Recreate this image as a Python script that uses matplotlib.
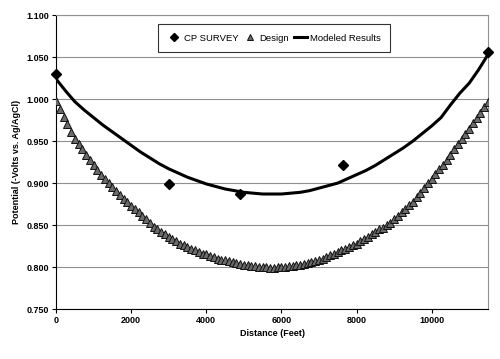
import numpy as np
import matplotlib
matplotlib.use("Agg")
from matplotlib import pyplot as plt

plt.rcParams['font.family'] = ['Liberation Sans', 'DejaVu Sans']

# CP survey readings
survey_x = [0, 3000, 4900, 7650, 11500]
survey_y = [1.030, 0.899, 0.887, 0.921, 1.056]

# design potential, every 100 ft
design_x = np.arange(0, 11600, 100)
design_y = [
    0.998, 0.988, 0.979, 0.970, 0.961, 0.953, 0.947, 0.940, 0.933, 0.927,
    0.921, 0.915, 0.910, 0.905, 0.900, 0.895, 0.890, 0.886, 0.881, 0.877,
    0.873, 0.869, 0.865, 0.861, 0.857, 0.852, 0.848, 0.845, 0.842, 0.839,
    0.836, 0.833, 0.831, 0.828, 0.826, 0.824, 0.822, 0.820, 0.818, 0.816,
    0.815, 0.813, 0.812, 0.810, 0.809, 0.808, 0.807, 0.806, 0.805, 0.804,
    0.803, 0.802, 0.801, 0.801, 0.800, 0.800, 0.800, 0.799, 0.799, 0.800,
    0.800, 0.800, 0.801, 0.801, 0.802, 0.803, 0.804, 0.805, 0.806, 0.807,
    0.808, 0.810, 0.812, 0.814, 0.816, 0.818, 0.820, 0.822, 0.824, 0.826,
    0.828, 0.831, 0.833, 0.836, 0.839, 0.842, 0.845, 0.847, 0.850, 0.853,
    0.857, 0.861, 0.865, 0.869, 0.874, 0.878, 0.883, 0.888, 0.894, 0.900,
    0.905, 0.911, 0.917, 0.922, 0.928, 0.934, 0.940, 0.946, 0.952, 0.958,
    0.964, 0.971, 0.977, 0.984, 0.990, 0.997,
]

# modeled results, every 250 ft
model_x = np.arange(0, 11750, 250)
model_y = [
    1.024, 1.010, 0.997, 0.987, 0.978, 0.969, 0.961, 0.953, 0.945, 0.937,
    0.930, 0.923, 0.917, 0.912, 0.907, 0.903, 0.899, 0.896, 0.893, 0.891,
    0.889, 0.888, 0.887, 0.887, 0.887, 0.888, 0.889, 0.891, 0.894, 0.897,
    0.900, 0.905, 0.910, 0.915, 0.921, 0.928, 0.935, 0.942, 0.950, 0.959,
    0.968, 0.978, 0.993, 1.007, 1.019, 1.035, 1.053,
]

fig = plt.figure(figsize=(5, 3.59), dpi=100)
ax = fig.add_axes([0.112, 0.139, 0.864, 0.819])

ax.plot(design_x, design_y, linestyle="none", marker="^", markersize=5.5,
        markerfacecolor="#6a6a6a", markeredgecolor="#111111",
        markeredgewidth=0.7, label="Design", zorder=3)
ax.plot(model_x, model_y, color="black", linewidth=2.2,
        label="Modeled Results", zorder=4)
ax.plot(survey_x, survey_y, linestyle="none", marker="D", markersize=5,
        color="black", label="CP SURVEY", zorder=5, clip_on=False)

ax.set_xlim(0, 11500)
ax.set_ylim(0.750, 1.100)
ax.set_xticks([0, 2000, 4000, 6000, 8000, 10000])
ax.set_yticks(np.arange(0.750, 1.1001, 0.05))
ax.yaxis.set_major_formatter(matplotlib.ticker.FormatStrFormatter("%.3f"))
ax.tick_params(labelsize=6.5, length=3, width=0.8, direction="out", pad=2)
for t in ax.get_xticklabels() + ax.get_yticklabels():
    t.set_fontweight("bold")

ax.grid(axis="y", color="#909090", linewidth=0.8)
ax.set_axisbelow(True)
for s in ["top", "right"]:
    ax.spines[s].set_color("#909090")
for s in ["left", "bottom"]:
    ax.spines[s].set_color("black")

ax.set_xlabel("Distance (Feet)", fontsize=6.5, fontweight="bold", labelpad=3)
ax.set_ylabel("Potential (-Volts vs. Ag/AgCl)", fontsize=6.5,
              fontweight="bold", labelpad=4)

h, l = ax.get_legend_handles_labels()
order = [2, 0, 1]
leg = ax.legend([h[i] for i in order], [l[i] for i in order], ncol=3,
                loc="upper center", bbox_to_anchor=(0.505, 0.985),
                fontsize=6.8, frameon=True, fancybox=False, handlelength=1.4,
                columnspacing=0.5, handletextpad=0.3, borderpad=1.0,
                markerscale=0.8)
leg.get_frame().set_edgecolor("black")
leg.get_frame().set_linewidth(0.8)

fig.savefig("out.png", dpi=100)
